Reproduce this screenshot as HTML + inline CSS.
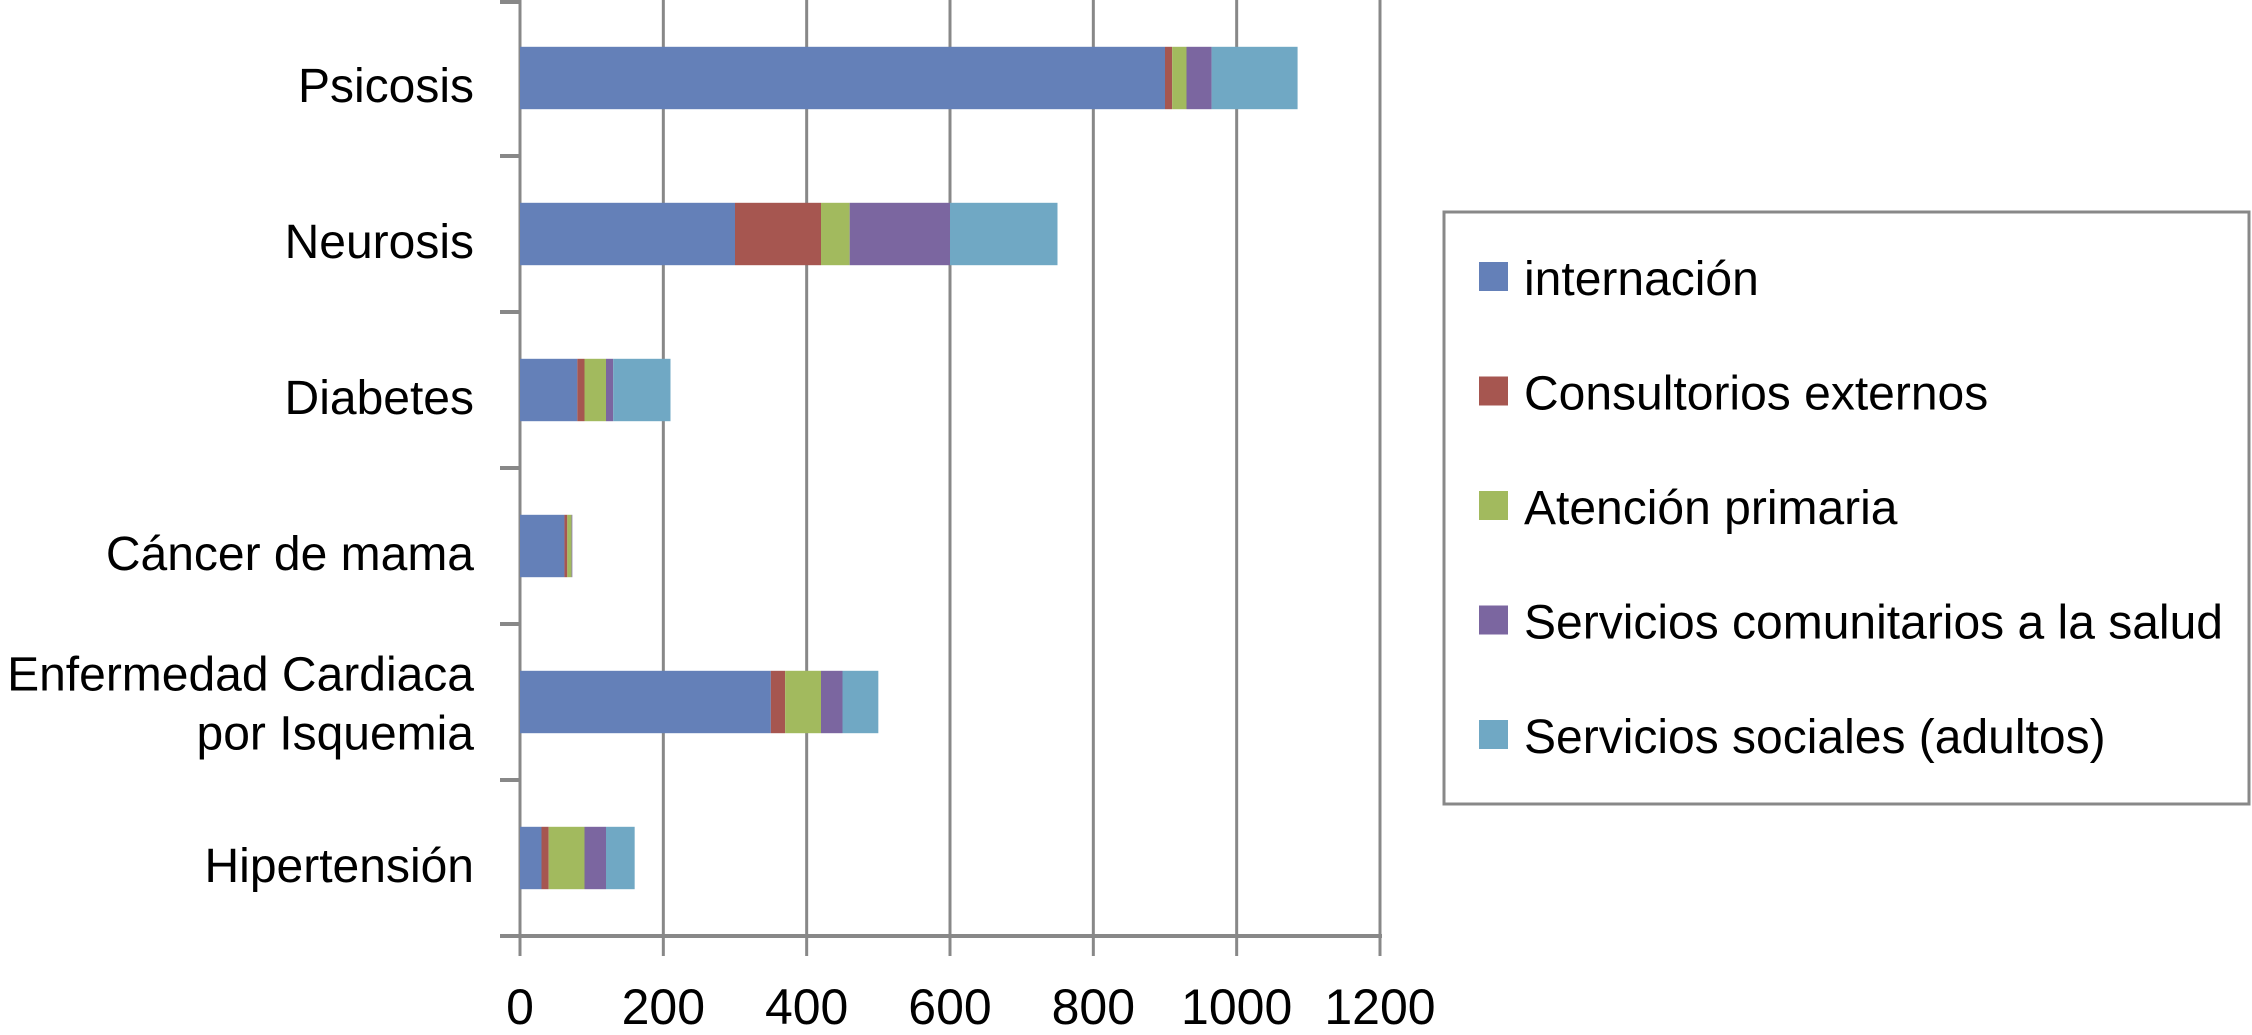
<!DOCTYPE html>
<html><head><meta charset="utf-8"><style>
html,body{margin:0;padding:0;background:#fff;}
svg{display:block;font-family:"Liberation Sans",Arial,sans-serif;}
</style></head><body>
<svg id="chart" width="2252" height="1035" viewBox="0 0 2252 1035" xmlns="http://www.w3.org/2000/svg">
<g id="grid"></g>
<g id="bars"></g>
<g id="axes"></g>
<g id="legend"></g>
</svg>
<script>
const categories = ["Psicosis","Neurosis","Diabetes","Cáncer de mama","Enfermedad Cardiaca|por Isquemia","Hipertensión"];
const seriesNames = ["internación","Consultorios externos","Atención primaria","Servicios comunitarios a la salud","Servicios sociales (adultos)"];
const internacion = [900,300,80,62,350,30];
const consultorios = [10,120,10,4,20,10];
const atencion = [20,40,30,6,50,50];
const comunitarios = [35,140,10,1,30,30];
const sociales = [120,150,80,0,50,40];
const xTicks = [0,200,400,600,800,1000,1200];
const colors = ["#6480b8","#a65650","#a2ba5e","#7b66a0","#70a8c4"];
const series = [internacion,consultorios,atencion,comunitarios,sociales];
const NS="http://www.w3.org/2000/svg";
const x0=520, x1=1380, yTop=0, yBot=936, xMax=1200;
const band=(yBot-yTop)/categories.length;
function xs(v){return x0+(x1-x0)*v/xMax;}
function mk(tag,attrs,parent){const e=document.createElementNS(NS,tag);for(const k in attrs)e.setAttribute(k,attrs[k]);parent.appendChild(e);return e;}
const grid=document.getElementById('grid'),bars=document.getElementById('bars'),axes=document.getElementById('axes'),legend=document.getElementById('legend');
xTicks.forEach((t,i)=>{
  const gx=xs(t);
  const l=mk('line',{x1:gx,y1:yTop,x2:gx,y2:956,stroke:'#888','stroke-width':3},grid);
  
  
  const tx=mk('text',{x:gx,y:1024,'font-size':50,'text-anchor':'middle',fill:'#000'},axes);
  tx.textContent=t;
  
  
});
const base=mk('line',{x1:500,y1:yBot,x2:x1+2,y2:yBot,stroke:'#888','stroke-width':4},axes);


for(let i=0;i<=categories.length;i++){
  const ty=yTop+i*band+(i==0?2:0);
  const t=mk('line',{x1:500,y1:ty,x2:x0,y2:ty,stroke:'#888','stroke-width':4},axes);
  
  
}
categories.forEach((c,i)=>{
  const cy=yTop+(i+0.5)*band;
  const bh=band*0.4;
  let acc=0;
  series.forEach((s,j)=>{
    const v=s[i];
    const r=mk('rect',{x:xs(acc),y:cy-bh/2,width:xs(acc+v)-xs(acc),height:bh,fill:colors[j]},bars);
    
    
    acc+=v;
  });
  const lines=c.split('|');
  const lh=59;
  lines.forEach((ln,k)=>{
    const ty=cy+(lines.length>1?18:24)+(k-(lines.length-1)/2)*lh;
    const tx=mk('text',{x:474,y:ty,'font-size':48,'text-anchor':'end',fill:'#000'},axes);
    tx.textContent=ln;
    
    
  });
});
const box=mk('rect',{x:1444,y:212,width:805,height:592,fill:'#fff',stroke:'#888','stroke-width':3},legend);


seriesNames.forEach((n,j)=>{
  const cy=277+j*114.5;
  const sq=mk('rect',{x:1479,y:cy-15,width:29,height:29,fill:colors[j]},legend);
  
  
  const tx=mk('text',{x:1524,y:cy+18,'font-size':48,fill:'#000'},legend);
  tx.textContent=n;
  
  
});
</script>
</body></html>
